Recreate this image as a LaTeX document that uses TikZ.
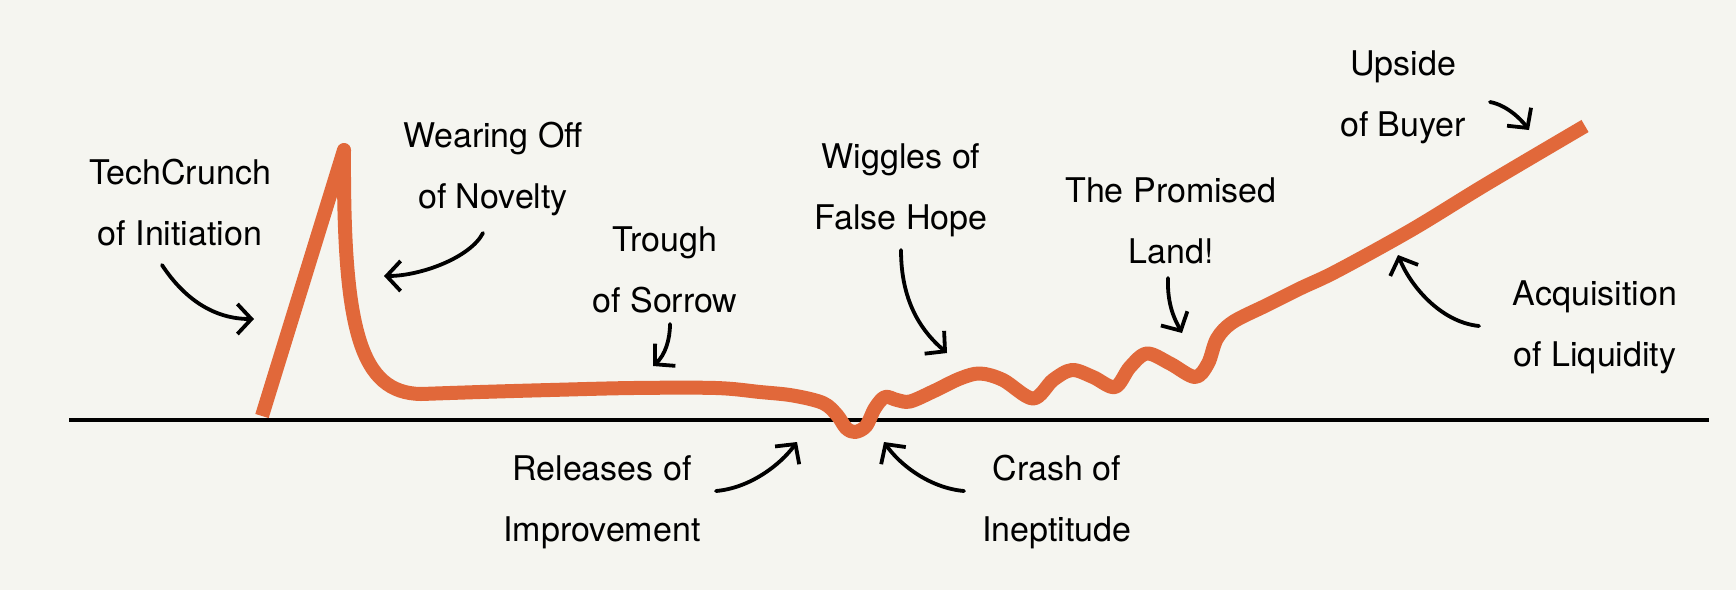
\documentclass[tikz,border=0pt]{standalone}
\usepackage{fontspec}
\setmainfont{TeX Gyre Heros}
\usetikzlibrary{arrows.meta}

\definecolor{paper}{HTML}{F5F5F0}
\definecolor{rust}{HTML}{E1683A}

\tikzset{
  phase/.style={font=\fontsize{34}{61}\selectfont, align=center, inner sep=0pt},
  hype/.style={draw=rust, line width=14pt, line join=round, line cap=butt},
  axis/.style={draw=black, line width=4pt},
  pointer/.style={draw=black, line width=3.8pt, line cap=round,
    -{Straight Barb[length=14pt,width=30pt]}},
}

\begin{document}
\begin{tikzpicture}[x=1pt, y=-1pt]

\fill[paper] (0,0) rectangle (1736,590);
\useasboundingbox (0,0) rectangle (1736,590);

% Define nodes
\path (180,203) node[phase] (crunch) {TechCrunch\\of Initiation}
(493,169) node[phase] (novelty) {Wearing Off\\of Novelty}
(665,270) node[phase] (trough) {Trough\\of Sorrow}
(901,190) node[phase] (wiggles) {Wiggles of\\False Hope}
(1171,221) node[phase] (promised) {The Promised\\Land!}
(602,502) node[phase] (releases) {Releases of\\Improvement}
(1057,502) node[phase] (crash) {Crash of\\Ineptitude}
(1403,97) node[phase] (upside) {Upside\\of Buyer}
(1595,327) node[phase] (acquisition) {Acquisition\\of Liquidity}
;

% Arrow ends
\path (162,265) coordinate (crunch-t) (254,319) coordinate (crunch-h)
(483,233) coordinate (novelty-t) (384,276) coordinate (novelty-h)
(670,324) coordinate (trough-t) (653,366) coordinate (trough-h)
(901,250) coordinate (wiggles-t) (947,353) coordinate (wiggles-h)
(1168,278) coordinate (promised-t) (1182,333) coordinate (promised-h)
(716,491) coordinate (releases-t) (797,442) coordinate (releases-h)
(964,491) coordinate (crash-t) (884,442) coordinate (crash-h)
(1490,102) coordinate (upside-t) (1529,130) coordinate (upside-h)
(1479,326) coordinate (acquisition-t) (1398,255) coordinate (acquisition-h)
;

% Axis
\draw[axis] (69,420) -- (1709,420);

% Curve
\draw[hype] (262,416) -- (344,150)
  .. controls (343,330) and (360,393) .. (421,394)
  -- plot[smooth, tension=0.55] coordinates {(421,394) (480,392) (550,390)
  (633,388) (716,388) (760,392) (793,395.5) (823,403) (837,415) (846,428)
  (855,432) (866,426) (875,408) (885,397) (897,400) (910,401.5) (933,391.5)
  (960,378.5) (980,373.5) (1003,380) (1033,398.5) (1053,380) (1072,370)
  (1093,377) (1115,387) (1130,367) (1147,353.5) (1170,363.5) (1195,377)
  (1208,363.5) (1217,338.5) (1233,322) (1267,305) (1300,288.5) (1337,271)
  (1412,229.6) (1486,184.4) (1585,126)};

% Arrows
\draw[pointer] (crunch-t) .. controls (185,300) and (215,319) .. (crunch-h);
\draw[pointer] (novelty-t) .. controls (470,258) and (420,276) .. (novelty-h);
\draw[pointer] (trough-t) .. controls (670,340) and (665,355) .. (trough-h);
\draw[pointer] (wiggles-t) .. controls (901,300) and (920,330) .. (wiggles-h);
\draw[pointer] (promised-t) .. controls (1167,305) and (1175,320) .. (promised-h);
\draw[pointer] (releases-t) .. controls (750,488) and (780,465) .. (releases-h);
\draw[pointer] (crash-t) .. controls (930,488) and (900,465) .. (crash-h);
\draw[pointer] (upside-t) .. controls (1506,105) and (1520,118) .. (upside-h);
\draw[pointer] (acquisition-t) .. controls (1440,322) and (1410,285) .. (acquisition-h);

\end{tikzpicture}
\end{document}
